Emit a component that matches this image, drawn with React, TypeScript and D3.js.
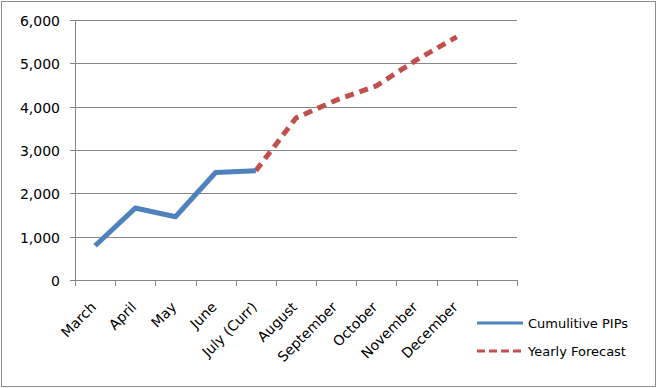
import React, { useEffect, useRef } from "react";
import * as d3 from "d3";

const months = ["March", "April", "May", "June", "July (Curr)", "August", "September", "October", "November", "December", ""];
const cumulativePips = [790, 1660, 1460, 2480, 2520];
const yearlyForecast = [null, null, null, null, 2520, 3740, 4150, 4480, 5080, 5610, null];
const yTicks = [0, 1000, 2000, 3000, 4000, 5000, 6000];

const W = 658;
const H = 388;
const FONT = "'DejaVu Sans', sans-serif";

export default function App() {
  const ref = useRef<SVGSVGElement>(null);

  useEffect(() => {
    const svg = d3.select(ref.current);
    svg.selectAll("*").remove();

    const left = 75, right = 517, top = 20, bottom = 280;

    const x = d3.scaleBand().domain(months.map((m, i) => String(i))).range([left, right]);
    const y = d3.scaleLinear().domain([0, 6000]).range([bottom, top]);
    const cx = (i: number) => (x(String(i)) as number) + x.bandwidth() / 2;

    svg.append("rect")
      .attr("x", 1.5).attr("y", 1.5).attr("width", 654).attr("height", 385)
      .attr("fill", "#fff").attr("stroke", "#8c8c8c").attr("stroke-width", 1);

    // gridlines
    svg.append("g")
      .selectAll("line")
      .data(yTicks.slice(1))
      .enter()
      .append("line")
      .attr("x1", left).attr("x2", right)
      .attr("y1", d => Math.round(y(d)) + 0.5).attr("y2", d => Math.round(y(d)) + 0.5)
      .attr("stroke", "#868686");

    // y axis
    const ya = svg.append("g");
    ya.append("line").attr("x1", left + 0.5).attr("x2", left + 0.5).attr("y1", top).attr("y2", bottom)
      .attr("stroke", "#868686");
    yTicks.forEach(t => {
      const yy = Math.round(y(t)) + 0.5;
      ya.append("line").attr("x1", left - 5).attr("x2", left).attr("y1", yy).attr("y2", yy).attr("stroke", "#868686");
      ya.append("text")
        .attr("x", 60).attr("y", yy + 5)
        .attr("text-anchor", "end")
        .style("font-family", FONT).style("font-size", "14px").attr("fill", "#000")
        .text(d3.format(",")(t));
    });

    // x axis
    const xa = svg.append("g");
    xa.append("line").attr("x1", left).attr("x2", right).attr("y1", bottom + 0.5).attr("y2", bottom + 0.5)
      .attr("stroke", "#868686");
    d3.range(months.length + 1).forEach(i => {
      const xx = Math.round(left + i * x.step()) + 0.5;
      xa.append("line").attr("x1", xx).attr("x2", xx).attr("y1", bottom).attr("y2", bottom + 6).attr("stroke", "#868686");
    });
    months.forEach((m, i) => {
      xa.append("text")
        .attr("transform", `translate(${cx(i) + 2}, ${bottom + 28}) rotate(-45)`)
        .attr("text-anchor", "end")
        .style("font-family", FONT).style("font-size", "14px").attr("fill", "#000")
        .text(m);
    });

    const line = d3.line<number | null>()
      .defined(d => d !== null)
      .x((d, i) => cx(i))
      .y(d => y(d as number));

    svg.append("path")
      .attr("d", line(yearlyForecast))
      .attr("fill", "none").attr("stroke", "#C0504D").attr("stroke-width", 5)
      .attr("stroke-dasharray", "9,6").attr("stroke-linejoin", "round");

    svg.append("path")
      .attr("d", line(cumulativePips))
      .attr("fill", "none").attr("stroke", "#4F81BD").attr("stroke-width", 5)
      .attr("stroke-linejoin", "round");

    // legend
    const legend = [
      { label: "Cumulitive PIPs", color: "#4F81BD", dash: null, y: 323 },
      { label: "Yearly Forecast", color: "#C0504D", dash: "8,4", y: 351 },
    ];
    legend.forEach(l => {
      svg.append("line").attr("x1", 477).attr("x2", 523).attr("y1", l.y).attr("y2", l.y)
        .attr("stroke", l.color).attr("stroke-width", 3)
        .attr("stroke-dasharray", l.dash);
      svg.append("text").attr("x", 528).attr("y", l.y + 5)
        .style("font-family", FONT).style("font-size", "13px").attr("fill", "#000")
        .text(l.label);
    });
  }, []);

  return (
    <svg ref={ref} width={W} height={H} style={{ position: "absolute", left: 0, top: 0 }} />
  );
}
